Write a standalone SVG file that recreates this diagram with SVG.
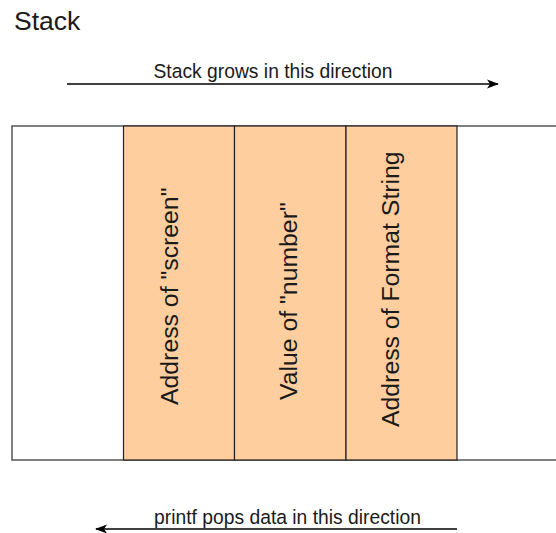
<svg xmlns="http://www.w3.org/2000/svg" width="556" height="533" viewBox="0 0 556 533">
  <defs>
    <marker id="arrow" viewBox="0 0 12 12" refX="11" refY="6" markerWidth="12" markerHeight="12" markerUnits="userSpaceOnUse" orient="auto">
      <path d="M0,1.5 L12,6 L0,10.5 L3,6 Z" fill="#000"/>
    </marker>
  </defs>
  <style>
    text { font-family: "Liberation Sans", Arial, sans-serif; fill: #1a1a1a; }
    .frame { fill: #fff; stroke: #555; stroke-width: 1.5; }
    .slot { fill: #ffce9f; stroke: #222; stroke-width: 1.2; }
    .slot-label { font-size: 24.8px; }
    .note { font-size: 19.3px; text-anchor: middle; }
    .conn { stroke: #000; stroke-width: 1.3; fill: none; }
  </style>

  <rect width="556" height="533" fill="#fff"/>

  <!-- heading -->
  <text id="title" x="14" y="30" font-size="26.5">Stack</text>

  <!-- stack frame -->
  <g id="frame">
    <rect class="frame" x="12" y="126" width="546" height="334"/>
  </g>

  <g id="slot-screen">
    <rect class="slot" x="123.5" y="126" width="111" height="334"/>
    <text class="slot-label" transform="translate(178 405) rotate(-90)">Address of "screen"</text>
  </g>

  <g id="slot-number">
    <rect class="slot" x="234.5" y="126" width="111.5" height="334"/>
    <text class="slot-label" transform="translate(297 400) rotate(-90)">Value of "number"</text>
  </g>

  <g id="slot-format">
    <rect class="slot" x="346" y="126" width="111" height="334"/>
    <text class="slot-label" transform="translate(399 427) rotate(-90)">Address of Format String</text>
  </g>

  <!-- direction arrows -->
  <g id="connectors">
    <line class="conn" x1="67" y1="84" x2="498" y2="84" marker-end="url(#arrow)"/>
    <line class="conn" x1="457" y1="529" x2="96" y2="529" marker-end="url(#arrow)"/>
  </g>

  <text id="grow-label" class="note" x="273" y="77.5">Stack grows in this direction</text>
  <text id="pop-label" class="note" x="287.5" y="523.5">printf pops data in this direction</text>
</svg>
